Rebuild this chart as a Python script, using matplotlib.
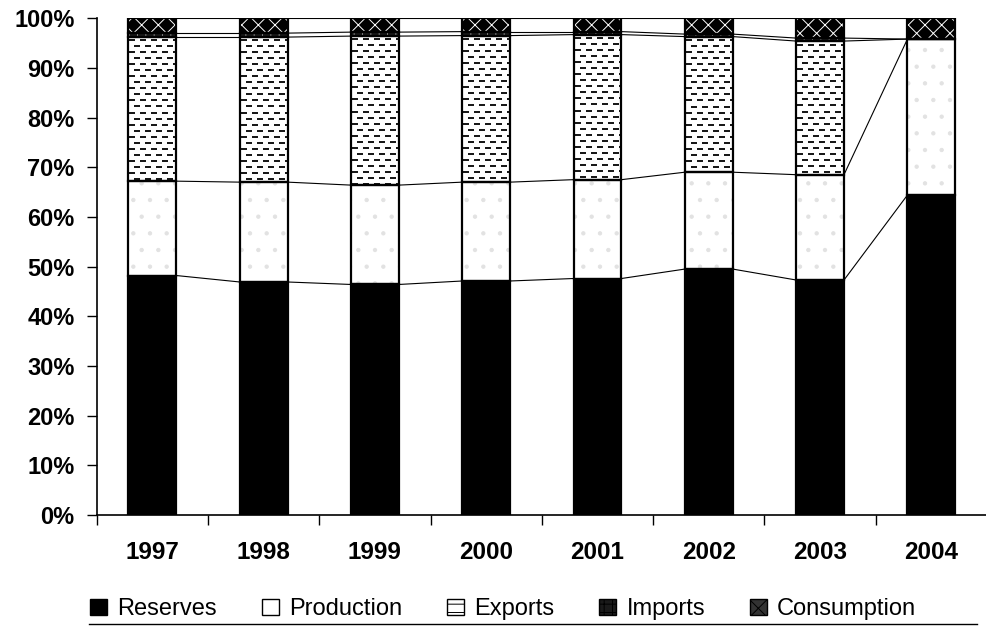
import numpy as np
import matplotlib
matplotlib.use("Agg")
import matplotlib.pyplot as plt
from matplotlib.patches import Patch
from matplotlib.lines import Line2D

plt.rcParams["font.family"] = ["Liberation Sans", "DejaVu Sans"]
plt.rcParams["hatch.linewidth"] = 0.7

years = ["1997", "1998", "1999", "2000", "2001", "2002", "2003", "2004"]
reserves = [48.2, 46.9, 46.4, 47.1, 47.6, 49.5, 47.3, 64.4]
production = [19.0, 20.1, 20.0, 19.9, 19.9, 19.5, 21.2, 31.4]
exports = [29.0, 29.2, 30.0, 29.5, 29.2, 27.3, 26.9, 0.0]
imports = [0.8, 0.8, 0.8, 0.8, 0.6, 0.5, 0.6, 0.0]
consumption = [3.0, 3.0, 2.8, 2.7, 2.7, 3.2, 4.0, 4.2]

series = [reserves, production, exports, imports, consumption]
x = np.arange(len(years))
w = 0.43

fig = plt.figure(figsize=(9.87, 6.28), dpi=100)
ax = fig.add_axes([0.098, 0.18, 0.902, 0.791])


def dash_texture(h_px, w_px):
    # white field with short staggered dashes, like the scanned fill
    tex = np.ones((h_px, w_px))
    for k, r in enumerate(range(3, h_px - 1, 6)):
        off = 1 if k % 2 == 0 else 6
        for c in range(off, w_px, 11):
            tex[r:r + 2, c:c + 6] = 0.1
    return tex


bottom = np.zeros(len(years))
styles = [
    dict(color="black"),
    dict(color="white", hatch=".", edgecolor="#e2e2e2"),
    None,
    dict(color="#1a1a1a", hatch="++", edgecolor="#999999"),
    dict(color="black", hatch="xx", edgecolor="white"),
]
for vals, st in zip(series, styles):
    vals = np.array(vals)
    if st is None:
        bars = ax.bar(x, vals, w, bottom=bottom, color="white", linewidth=0)
        for b, v, b0 in zip(bars, vals, bottom):
            if v <= 0:
                continue
            hp = max(int(v * 4.97), 2)
            img = ax.imshow(dash_texture(hp, 48), cmap="gray", vmin=0, vmax=1,
                            extent=(b.get_x(), b.get_x() + w, b0, b0 + v),
                            aspect="auto", interpolation="nearest", zorder=2)
            img.set_clip_path(b)
    else:
        ax.bar(x, vals, w, bottom=bottom, linewidth=0, zorder=2, **st)
    ax.bar(x, vals, w, bottom=bottom, fill=False, edgecolor="black",
           linewidth=1.6, zorder=3)
    bottom = bottom + vals
    # series lines between neighbouring bars
    for i in range(len(years) - 1):
        ax.plot([x[i] + w / 2, x[i + 1] - w / 2], [bottom[i], bottom[i + 1]],
                color="black", linewidth=0.8, zorder=1)

ax.set_xlim(-0.5, 7.5)
ax.set_ylim(0, 100)
ax.set_yticks(np.arange(0, 101, 10))
ax.set_yticklabels([f"{v}%" for v in range(0, 101, 10)], fontweight="bold",
                   fontsize=17)
ax.set_xticks(x)
ax.set_xticklabels(years, fontweight="bold", fontsize=17.5)
ax.set_xticks(np.arange(-0.5, 7.6, 1), minor=True)
ax.tick_params(axis="x", which="major", length=0, pad=19)
ax.tick_params(axis="x", which="minor", length=7, width=1)
ax.tick_params(axis="y", length=7, width=1, pad=9)
ax.spines["right"].set_visible(False)
ax.spines["top"].set_visible(False)
ax.spines["left"].set_linewidth(1.2)
ax.spines["bottom"].set_linewidth(1.2)

handles = [
    Patch(facecolor="black", edgecolor="black"),
    Patch(facecolor="white", edgecolor="black"),
    Patch(facecolor="white", edgecolor="black", hatch="--"),
    Patch(facecolor="#1a1a1a", edgecolor="black", hatch="++"),
    Patch(facecolor="#333333", edgecolor="black", hatch="xx"),
]
labels = ["Reserves", "Production", "Exports", "Imports", "Consumption"]
fig.legend(handles, labels, loc="center", bbox_to_anchor=(0.51, 0.03), ncol=5,
           frameon=False, fontsize=17, handlelength=0.7, handleheight=0.7,
           handletextpad=0.45, columnspacing=1.9)
fig.add_artist(Line2D([0.09, 0.99], [0.007, 0.007], color="black", linewidth=1))

fig.savefig("out.png", dpi=100)
